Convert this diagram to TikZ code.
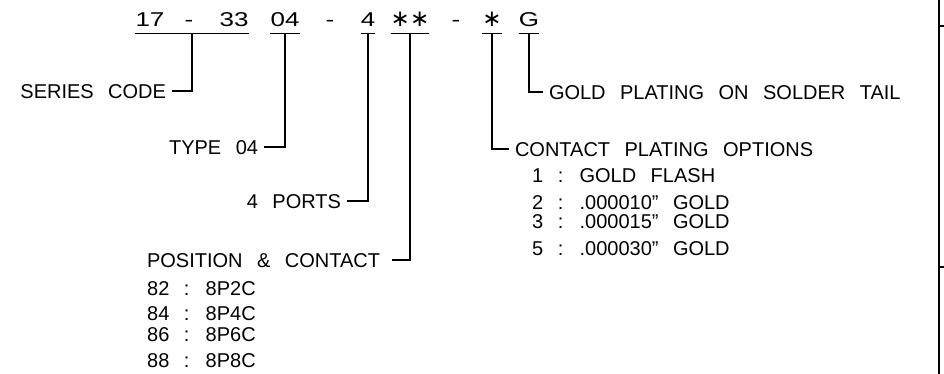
\documentclass[tikz,border=0pt]{standalone}
\usepackage{fontspec}
\setmainfont{Liberation Sans}[WordSpace=2.6]
\newfontfamily\codefont{Liberation Sans}[FakeStretch=1.3]
\newfontfamily\starfont{DejaVu Sans}
\usetikzlibrary{positioning, calc}
\tikzset{
    codePart/.style={
        anchor=base,
        font=\codefont\fontsize{20}{24}\selectfont,
        inner xsep=0pt,
        inner ysep=6pt,
        text depth=0pt
    },
    starPart/.style={
        font=\starfont\fontsize{23}{24}\selectfont
    },
    codeLabel/.style={
        font=\fontsize{20}{24}\selectfont,
        inner sep=0pt,
        outer xsep=6pt,
        text height=14.3pt,
        text depth=0pt
    },
    listItem/.style={
        anchor=west,
        font=\fontsize{20}{24}\selectfont,
        inner sep=0pt,
        text height=14.3pt,
        text depth=0pt
    },
    stemLine/.style={
        line width=1.3pt
    },
    frameLine/.style={
        line width=1.8pt
    }
}
\begin{document}
\begin{tikzpicture}[x=1pt, y=-1pt]
    \useasboundingbox (0,0) rectangle (944,374);

    % Part number
    \node[codePart] (c17) at (150,27) {17};
    \node[codePart] (dashA) at (189,27) {-};
    \node[codePart] (c33) at (234,27) {33};
    \node[codePart] (c04) at (285,27) {04};
    \node[codePart] (dashB) at (330,27) {-};
    \node[codePart] (c4) at (368,27) {4};
    \node[codePart, starPart] (cStars) at (410,27) {∗∗};
    \node[codePart] (dashC) at (456,27) {-};
    \node[codePart, starPart] (cStar) at (492,27) {∗};
    \node[codePart] (cG) at (529,27) {G};

    % Underlines
    \coordinate (uSeries) at ($(c17.south west)!0.5!(c33.south east)$);
    \draw[stemLine] (c17.south west) -- (c33.south east);
    \foreach \n in {c04, c4, cStars, cStar, cG}
        \draw[stemLine] (\n.south west) -- (\n.south east);

    % Leader corners
    \coordinate (kSeries) at (uSeries |- 0,91);
    \coordinate (kType) at (c04.south |- 0,147);
    \coordinate (kPorts) at (c4.south |- 0,201);
    \coordinate (kPos) at (cStars.south |- 0,260);
    \coordinate (kPlate) at (cStar.south |- 0,149);
    \coordinate (kGold) at (cG.south |- 0,92);

    % Labels
    \node[codeLabel, left=20pt of kSeries] (series) {SERIES CODE};
    \node[codeLabel, left=21pt of kType] (type) {TYPE 04};
    \node[codeLabel, left=21pt of kPorts] (ports) {4 PORTS};
    \node[codeLabel, left=18pt of kPos, outer xsep=12pt] (position) {POSITION \& CONTACT};
    \node[codeLabel, right=17pt of kPlate] (plating) {CONTACT PLATING OPTIONS};
    \node[codeLabel, right=14pt of kGold] (gold) {GOLD PLATING ON SOLDER TAIL};

    % Leaders
    \draw[stemLine] (uSeries) |- (series.east);
    \draw[stemLine] (c04.south) |- (type.east);
    \draw[stemLine] (c4.south) |- (ports.east);
    \draw[stemLine] (cStars.south) |- (position.east);
    \draw[stemLine] (cStar.south) |- (plating.west);
    \draw[stemLine] (cG.south) |- (gold.west);

    % Option lists
    \foreach \y/\t [count=\i] in {288/82 : 8P2C, 313/84 : 8P4C, 334/86 : 8P6C, 360/88 : 8P8C}
        \node[listItem] (pos\i) at (147,\y) {\t};
    \foreach \y/\t [count=\i] in {175/1 : GOLD FLASH, 202/2 : .000010" GOLD, 221/3 : .000015" GOLD, 248/5 : .000030" GOLD}
        \node[listItem] (opt\i) at (532,\y) {\t};

    % Frame edge
    \draw[frameLine] (939,0) -- (939,374);
    \draw[frameLine] (939,26) -- (944,26);
    \draw[frameLine] (939,267) -- (944,267);
\end{tikzpicture}
\end{document}
